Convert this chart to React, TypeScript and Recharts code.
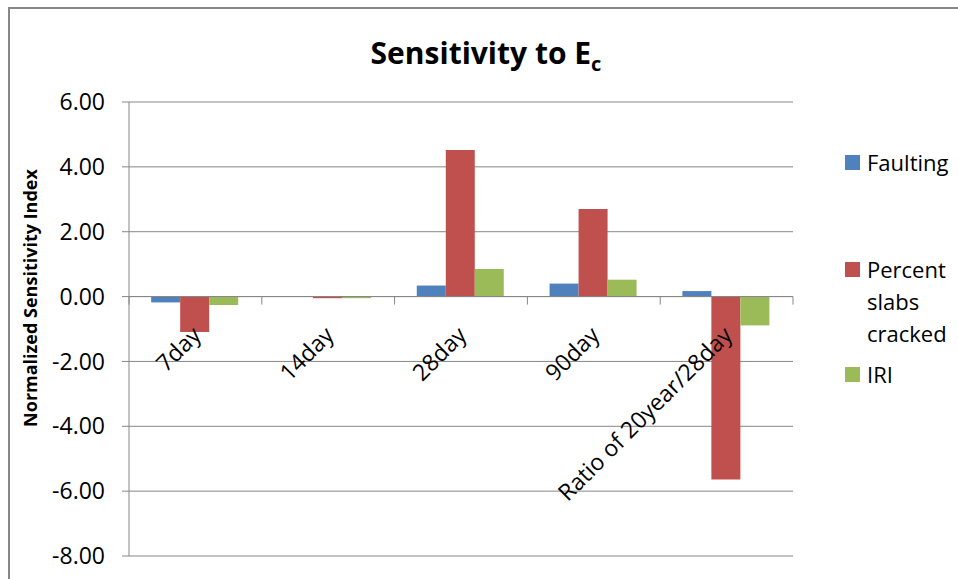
// @ts-nocheck
import React from 'react';
import { BarChart, Bar, XAxis, YAxis, CartesianGrid, ReferenceLine } from 'recharts';

const categories = ['7day', '14day', '28day', '90day', 'Ratio of 20year/28day'];
const faulting = [-0.18, 0, 0.34, 0.40, 0.17];
const percentSlabsCracked = [-1.09, -0.05, 4.52, 2.70, -5.64];
const iri = [-0.26, -0.05, 0.85, 0.52, -0.89];
const yTicks = [-8, -6, -4, -2, 0, 2, 4, 6];

const seriesList = [
  { key: 'faulting', label: ['Faulting'], color: '#4F81BD', values: faulting, top: 146 },
  { key: 'percent', label: ['Percent', 'slabs', 'cracked'], color: '#C0504D', values: percentSlabsCracked, top: 253 },
  { key: 'iri', label: ['IRI'], color: '#9BBB59', values: iri, top: 358 },
];

const data = categories.map((name, i) => ({
  name,
  faulting: faulting[i],
  percent: percentSlabsCracked[i],
  iri: iri[i],
}));

const W = 958;
const H = 579;
const M = { top: 102, right: 165, bottom: 0, left: 69 };
const Y_AXIS_W = 60;
const X_AXIS_H = 23;
const Y_MIN = -8;
const Y_MAX = 6;
const PLOT_H = H - M.top - M.bottom - X_AXIS_H;
const PLOT_W = W - M.left - M.right - Y_AXIS_W;
const ZERO_Y = M.top + ((Y_MAX - 0) / (Y_MAX - Y_MIN)) * PLOT_H;
const BAND = PLOT_W / categories.length;

const FONT = '"Open Sans", sans-serif';
const GRID = '#878787';

// category labels sit at the zero line like the Excel original
function CategoryTick({ x, payload, index }) {
  const ax = x + 7;
  const ay = ZERO_Y + 40;
  return (
    <g>
      <line x1={x - BAND / 2} x2={x - BAND / 2} y1={ZERO_Y} y2={ZERO_Y + 8} stroke={GRID} />
      {index === categories.length - 1 && (
        <line x1={x + BAND / 2} x2={x + BAND / 2} y1={ZERO_Y} y2={ZERO_Y + 8} stroke={GRID} />
      )}
      <text x={ax} y={ay} textAnchor="end" transform={`rotate(-45, ${ax}, ${ay})`}
        fontFamily={FONT} fontSize={23} fill="#000">
        {payload.value}
      </text>
    </g>
  );
}

export default function App() {
  return (
    <div style={{ position: 'fixed', left: 0, top: 0, width: W, height: H, background: '#fff', overflow: 'hidden' }}>
      <div style={{ position: 'absolute', left: 8, top: 7, width: W, height: H, borderTop: `2px solid ${GRID}`, borderLeft: `2px solid ${GRID}` }} />
      <div style={{ position: 'absolute', left: 0, width: 972, top: 37, textAlign: 'center', fontFamily: FONT, fontWeight: 700, fontSize: 30, lineHeight: '32px', color: '#000' }}>
        Sensitivity to E<span style={{ fontSize: 20, position: 'relative', top: 7 }}>c</span>
      </div>
      <div style={{ position: 'absolute', left: 0, top: 0 }}>
        <BarChart width={W} height={H} data={data} margin={M} barCategoryGap="16.7%" barGap={0}>
          <CartesianGrid vertical={false} stroke={GRID} />
          <XAxis dataKey="name" height={X_AXIS_H} axisLine={false} tickLine={false} interval={0} tick={<CategoryTick />} />
          <YAxis
            width={Y_AXIS_W}
            domain={[Y_MIN, Y_MAX]}
            ticks={yTicks}
            interval={0}
            tickFormatter={(v) => v.toFixed(2)}
            axisLine={{ stroke: GRID }}
            tickLine={{ stroke: GRID }}
            tickSize={7}
            tickMargin={17}
            tick={{ fontSize: 23, fill: '#000', fontFamily: FONT }}
            label={() => (
              <text x={37} y={298} transform="rotate(-90, 37, 298)" textAnchor="middle"
                fontFamily={FONT} fontWeight={700} fontSize={18} fill="#000">
                Normalized Sensitivity Index
              </text>
            )}
          />
          <ReferenceLine y={0} stroke={GRID} />
          {seriesList.map((s) => (
            <Bar key={s.key} dataKey={s.key} fill={s.color} isAnimationActive={false} />
          ))}
        </BarChart>
      </div>
      {seriesList.map((s) => (
        <div key={s.key} style={{ position: 'absolute', left: 845, top: s.top, fontFamily: FONT, fontSize: 22, lineHeight: '32px', color: '#000' }}>
          <div style={{ position: 'absolute', left: 0, top: 9, width: 15, height: 15, background: s.color }} />
          <div style={{ position: 'absolute', left: 22, top: 0, whiteSpace: 'nowrap' }}>
            {s.label.map((l) => <div key={l}>{l}</div>)}
          </div>
        </div>
      ))}
    </div>
  );
}
